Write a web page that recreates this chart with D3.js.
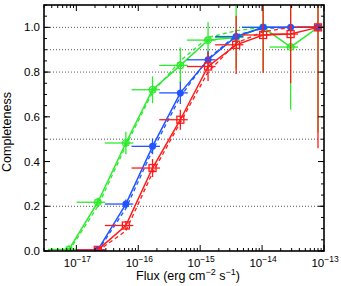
<!DOCTYPE html>
<html>
<head>
<meta charset="utf-8">
<script src="https://cdn.jsdelivr.net/npm/d3@7"></script>
<style>
  body { margin: 0; background: #fff; }
  text { font-family: "Liberation Sans", Arial, sans-serif; }
</style>
</head>
<body>
<div id="chart"></div>
<script>
// Data
var flux = [7.6e-18, 2.22e-17, 6.3e-17, 1.70e-16, 4.78e-16, 1.34e-15, 3.81e-15, 1.04e-14, 2.89e-14, 8.0e-14];
var binLo = [3.47e-18, 1.01e-17, 2.88e-17, 7.8e-17, 2.18e-16, 6.1e-16, 1.74e-15, 4.75e-15, 1.32e-14, 3.66e-14];
var binHi = [1.0e-17, 2.93e-17, 8.3e-17, 2.24e-16, 6.3e-16, 1.77e-15, 5.0e-15, 1.37e-14, 3.81e-14, 1.05e-13];

var green = [0.007, 0.218, 0.483, 0.721, 0.830, 0.943, 0.955, 1.0, 0.912, 1.0];
var greenErr = [0.005, 0.02, 0.05, 0.06, 0.08, 0.08, 0.14, 0.20, 0.28, 0.47];
var greenModel = [0.0, 0.20, 0.47, 0.71, 0.85, 0.955, 0.985, 1.0, 1.0, 1.0];

var blue = [null, 0.005, 0.21, 0.468, 0.707, 0.855, 0.959, 1.0, 1.0, 1.0];
var blueErr = [null, 0.005, 0.02, 0.035, 0.05, 0.04, 0.03, 0.0, 0.0, 0.0];
var blueModel = [null, 0.0, 0.19, 0.45, 0.69, 0.86, 0.965, 0.995, 1.0, 1.0];

var red = [null, 0.005, 0.114, 0.371, 0.587, 0.825, 0.922, 0.966, 0.97, 1.0];
var redErr = [null, 0.005, 0.02, 0.04, 0.045, 0.065, 0.13, 0.17, 0.22, 0.54];
var redModel = [null, 0.0, 0.09, 0.35, 0.575, 0.80, 0.93, 0.98, 1.0, 1.0];

var xTickExp = [-17, -16, -15, -14, -13];
var yTickLabels = ["0.0", "0.2", "0.4", "0.6", "0.8", "1.0"];
var gridLevels = [0.2, 0.5, 0.8, 0.9, 1.0];

var W = 341, H = 286;
var margin = { top: 5, right: 17, bottom: 35, left: 44 },
    width = W - margin.left - margin.right,
    height = H - margin.top - margin.bottom;

var svg = d3.select("#chart")
    .append("svg")
    .attr("width", W)
    .attr("height", H)
    .append("g")
    .attr("transform", "translate(" + margin.left + "," + margin.top + ")");

var x = d3.scaleLog().domain([3e-18, 1e-13]).range([0, width]);
var y = d3.scaleLinear().domain([0, 1.1]).range([height, 0]);

// dotted reference lines
svg.selectAll(".grid")
    .data(gridLevels)
    .enter().append("line")
    .attr("x1", 0).attr("x2", width)
    .attr("y1", function (d) { return y(d); })
    .attr("y2", function (d) { return y(d); })
    .attr("stroke", "#555")
    .attr("stroke-width", 1)
    .attr("stroke-dasharray", "1,2");

// clip for the data
svg.append("defs").append("clipPath")
    .attr("id", "clip")
    .append("rect")
    .attr("width", width)
    .attr("height", height);

var plot = svg.append("g").attr("clip-path", "url(#clip)");

var series = [
    { name: "green", vals: green, err: greenErr, model: greenModel, color: "#2ceb2c", mark: "star" },
    { name: "blue", vals: blue, err: blueErr, model: blueModel, color: "#2255ff", mark: "dot" },
    { name: "red", vals: red, err: redErr, model: redModel, color: "#ff1a1a", mark: "square" }
];

series.forEach(function (s) {
    var pts = flux.map(function (f, i) {
        return { f: f, lo: binLo[i], hi: binHi[i], v: s.vals[i], e: s.err[i], m: s.model[i] };
    }).filter(function (d) { return d.v !== null; });

    var g = plot.append("g").attr("class", s.name);

    // dashed model line
    g.append("path")
        .datum(pts)
        .attr("fill", "none")
        .attr("stroke", s.color)
        .attr("stroke-width", 1.3)
        .attr("stroke-dasharray", "4,3")
        .attr("d", d3.line()
            .x(function (d) { return x(d.f); })
            .y(function (d) { return y(d.m); }));

    // measured line
    g.append("path")
        .datum(pts)
        .attr("fill", "none")
        .attr("stroke", s.color)
        .attr("stroke-width", 1.5)
        .attr("d", d3.line()
            .x(function (d) { return x(d.f); })
            .y(function (d) { return y(d.v); }));

    // horizontal error bars (bin)
    g.selectAll(".xerr")
        .data(pts)
        .enter().append("line")
        .attr("x1", function (d) { return x(d.lo); })
        .attr("x2", function (d) { return x(d.hi); })
        .attr("y1", function (d) { return y(d.v); })
        .attr("y2", function (d) { return y(d.v); })
        .attr("stroke", s.color)
        .attr("stroke-width", 1.3);

    // vertical error bars
    g.selectAll(".yerr")
        .data(pts)
        .enter().append("line")
        .attr("x1", function (d) { return x(d.f); })
        .attr("x2", function (d) { return x(d.f); })
        .attr("y1", function (d) { return y(d.v - d.e); })
        .attr("y2", function (d) { return y(d.v + d.e); })
        .attr("stroke", s.color)
        .attr("stroke-width", 1.3);

    // markers
    var mk = g.selectAll(".mk")
        .data(pts)
        .enter().append("g")
        .attr("transform", function (d) { return "translate(" + x(d.f) + "," + y(d.v) + ")"; });

    if (s.mark === "dot") {
        mk.append("circle").attr("r", 3.5).attr("fill", s.color);
    } else if (s.mark === "square") {
        mk.append("rect")
            .attr("x", -3.5).attr("y", -3.5)
            .attr("width", 7).attr("height", 7)
            .attr("fill", "none")
            .attr("stroke", s.color)
            .attr("stroke-width", 1.3);
    } else {
        mk.append("circle").attr("r", 3.3)
            .attr("fill", "none").attr("stroke", s.color).attr("stroke-width", 1.3);
        mk.append("path")
            .attr("d", "M-3,-3L3,3M-3,3L3,-3M0,-4L0,4M-4,0L4,0")
            .attr("stroke", s.color).attr("stroke-width", 1);
    }
});

// minor ticks for log axis
var minorX = [];
for (var e = -18; e <= -14; e++) {
    for (var k = 2; k <= 9; k++) {
        var v = k * Math.pow(10, e);
        if (v >= 3e-18 && v <= 1e-13) minorX.push(v);
    }
}
var majorX = xTickExp.map(function (p) { return Math.pow(10, p); });

function xTicks(yPos, dir) {
    svg.selectAll(null).data(majorX).enter().append("line")
        .attr("x1", function (d) { return x(d); }).attr("x2", function (d) { return x(d); })
        .attr("y1", yPos).attr("y2", yPos + dir * 6)
        .attr("stroke", "#000").attr("stroke-width", 1);
    svg.selectAll(null).data(minorX).enter().append("line")
        .attr("x1", function (d) { return x(d); }).attr("x2", function (d) { return x(d); })
        .attr("y1", yPos).attr("y2", yPos + dir * 3)
        .attr("stroke", "#000").attr("stroke-width", 1);
}
xTicks(height, -1);
xTicks(0, 1);

var majorY = d3.range(0, 1.01, 0.2);
var minorY = d3.range(0, 1.101, 0.05);

function yTicks(xPos, dir) {
    svg.selectAll(null).data(minorY).enter().append("line")
        .attr("x1", xPos).attr("x2", xPos + dir * 3)
        .attr("y1", function (d) { return y(d); }).attr("y2", function (d) { return y(d); })
        .attr("stroke", "#000").attr("stroke-width", 1);
    svg.selectAll(null).data(majorY).enter().append("line")
        .attr("x1", xPos).attr("x2", xPos + dir * 6)
        .attr("y1", function (d) { return y(d); }).attr("y2", function (d) { return y(d); })
        .attr("stroke", "#000").attr("stroke-width", 1);
}
yTicks(0, 1);
yTicks(width, -1);

// frame
svg.append("rect")
    .attr("width", width).attr("height", height)
    .attr("fill", "none").attr("stroke", "#000").attr("stroke-width", 1.6);

// y labels
svg.selectAll(".ylab")
    .data(majorY)
    .enter().append("text")
    .attr("x", -4)
    .attr("y", function (d) { return y(d) + 4; })
    .attr("text-anchor", "end")
    .attr("font-size", 11.5)
    .text(function (d, i) { return yTickLabels[i]; });

// x labels with exponents
var xl = svg.selectAll(".xlab")
    .data(xTickExp)
    .enter().append("text")
    .attr("x", function (d) { return x(Math.pow(10, d)) + 1; })
    .attr("y", height + 16)
    .attr("text-anchor", "middle")
    .attr("font-size", 11.5);
xl.append("tspan").text("10");
xl.append("tspan").attr("dy", -5).attr("font-size", 8.5)
    .text(function (d) { return "\u2212" + Math.abs(d); });

// axis titles
var xt = svg.append("text")
    .attr("x", width / 2 + 4)
    .attr("y", height + 29)
    .attr("text-anchor", "middle")
    .attr("font-size", 12.5);
xt.append("tspan").text("Flux (erg cm");
xt.append("tspan").attr("dy", -5).attr("font-size", 9).text("\u22122");
xt.append("tspan").attr("dy", 5).text(" s");
xt.append("tspan").attr("dy", -5).attr("font-size", 9).text("\u22121");
xt.append("tspan").attr("dy", 5).text(")");

svg.append("text")
    .attr("transform", "translate(" + (-33) + "," + (height / 2 + 4) + ") rotate(-90)")
    .attr("text-anchor", "middle")
    .attr("font-size", 12.5)
    .text("Completeness");
</script>
</body>
</html>
